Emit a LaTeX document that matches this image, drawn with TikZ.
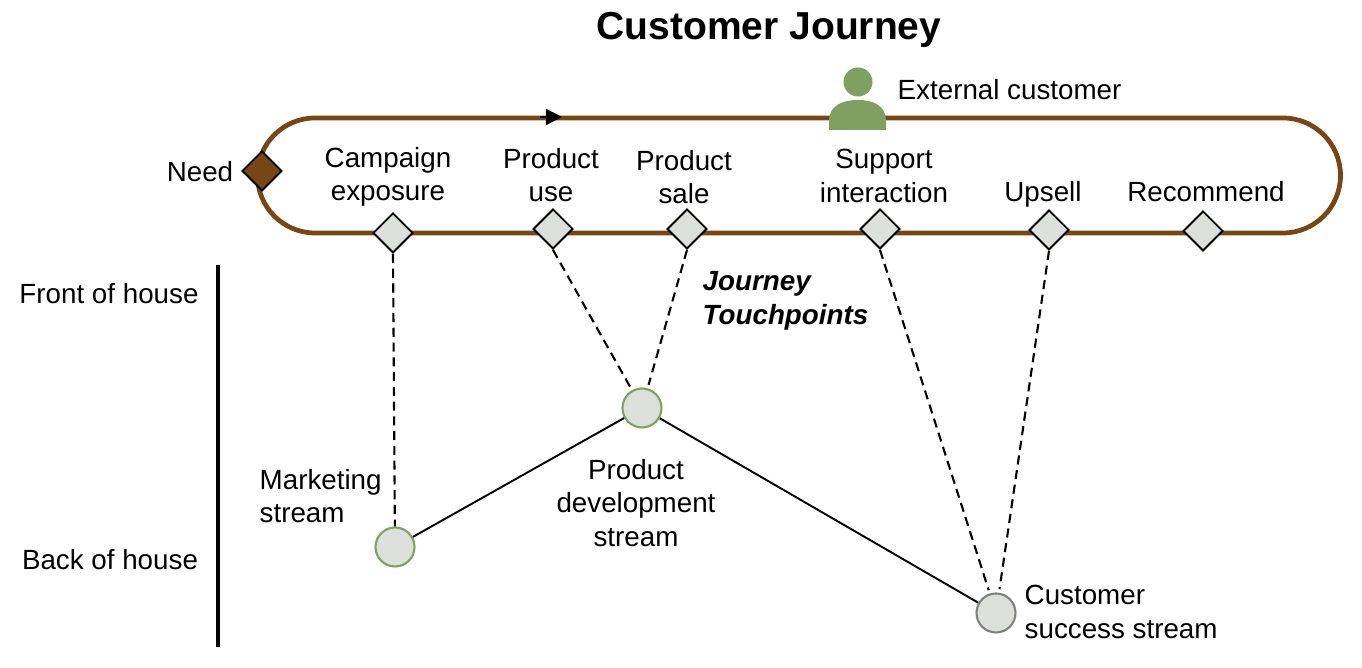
\documentclass[tikz,border=0pt]{standalone}
\usepackage{fontspec}
\setmainfont{Liberation Sans}
\usetikzlibrary{shapes.geometric, arrows.meta}
\definecolor{trackbrown}{RGB}{120, 70, 20}
\definecolor{touchgrey}{RGB}{220, 223, 218}
\definecolor{personcol}{RGB}{128, 160, 98}
\definecolor{ringgrey}{RGB}{128, 128, 128}
\tikzset{
  lbl/.style={font=\fontsize{7.9}{9.5}\selectfont, align=center, inner sep=0pt},
  lblleft/.style={lbl, align=left, anchor=west},
  touch/.style={draw=black, line width=0.55pt, fill=touchgrey, shape=diamond, aspect=1, inner sep=0pt, minimum size=0.4cm},
  stream/.style={draw=personcol, line width=0.6pt, fill=touchgrey, circle, inner sep=0pt, minimum size=0.39cm},
  link/.style={black, line width=0.6pt, dash pattern=on 2.6pt off 1.6pt},
  flow/.style={black, line width=0.55pt}
}

\begin{document}
\begin{tikzpicture}
  \useasboundingbox (0,0) rectangle (13.62,6.68);

  % Title
  \node[font=\fontsize{11.1}{13}\selectfont\bfseries, inner sep=0pt] (title) at (7.69, 6.38) {Customer Journey};

  % Journey track
  \draw[trackbrown, line width=1.35pt] (3.15, 5.50) -- (12.83, 5.50) arc[start angle=90, end angle=-90, radius=0.575] -- (3.15, 4.35) arc[start angle=270, end angle=90, radius=0.575] -- cycle;
  \coordinate (arrowtail) at (5.40, 5.51);
  \coordinate (arrowtip) at (5.62, 5.51);
  \draw[-{Triangle[length=4.6pt, width=4.6pt]}, black, line width=0.5pt] (arrowtail) -- (arrowtip);

  % External customer
  \node[fill=personcol, circle, inner sep=0pt, minimum size=0.29cm] (head) at (8.58, 5.86) {};
  \fill[personcol] (8.29, 5.38) -- (8.29, 5.47) .. controls (8.29, 5.62) and (8.42, 5.68) .. (8.58, 5.68) .. controls (8.74, 5.68) and (8.86, 5.62) .. (8.86, 5.47) -- (8.86, 5.38) -- cycle;
  \node[lblleft] (external) at (8.97, 5.78) {External customer};

  % Touchpoints
  \node[touch, fill=trackbrown] (need) at (2.62, 4.97) {};
  \node[touch] (campaign) at (3.93, 4.35) {};
  \node[touch] (use) at (5.53, 4.39) {};
  \node[touch] (sale) at (6.87, 4.39) {};
  \node[touch] (support) at (8.80, 4.39) {};
  \node[touch] (upsell) at (10.49, 4.38) {};
  \node[touch] (recommend) at (12.03, 4.37) {};

  \node[lbl] (needlbl) at (2.00, 4.96) {Need};
  \node[lbl] (campaignlbl) at (3.88, 4.91) {Campaign\\exposure};
  \node[lbl] (uselbl) at (5.51, 4.93) {Product\\use};
  \node[lbl] (salelbl) at (6.84, 4.91) {Product\\sale};
  \node[lbl] (supportlbl) at (8.84, 4.92) {Support\\interaction};
  \node[lbl] (upselllbl) at (10.43, 4.74) {Upsell};
  \node[lbl] (recommendlbl) at (12.06, 4.76) {Recommend};
  \node[lblleft, font=\fontsize{7.9}{9.5}\selectfont\bfseries\itshape] (touchlbl) at (7.02, 3.67) {Journey\\Touchpoints};

  % Streams
  \node[stream] (marketing) at (3.95, 1.21) {};
  \node[stream] (product) at (6.42, 2.60) {};
  \node[stream, draw=ringgrey] (customer) at (9.96, 0.55) {};

  \node[lblleft] (marketinglbl) at (2.59, 1.72) {Marketing\\stream};
  \node[lbl] (productlbl) at (6.36, 1.65) {Product\\development\\stream};
  \node[lblleft] (customerlbl) at (10.24, 0.56) {Customer\\success stream};

  \draw[flow] (marketing) -- (product);
  \draw[flow] (product) -- (customer);
  \draw[link] (campaign.south) -- (marketing);
  \draw[link, shorten >=1pt] (use.south) -- (product);
  \draw[link, shorten >=1pt] (sale.south) -- (product);
  \draw[link, shorten >=1pt] (support.south) -- (customer);
  \draw[link, shorten >=1pt] (upsell.south) -- (customer);

  % House split
  \coordinate (splittop) at (2.18, 4.03);
  \coordinate (splitbot) at (2.18, 0.21);
  \draw[black, line width=0.9pt] (splittop) -- (splitbot);
  \node[lbl] (front) at (1.09, 3.74) {Front of house};
  \node[lbl] (back) at (1.10, 1.08) {Back of house};
\end{tikzpicture}
\end{document}
